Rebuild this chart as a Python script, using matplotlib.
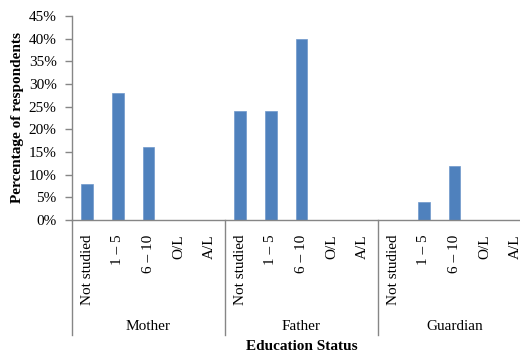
import matplotlib
matplotlib.use('Agg')
import matplotlib.pyplot as plt
import matplotlib.transforms as mtransforms

groups = ["Mother", "Father", "Guardian"]
levels = ["Not studied", "1 \u2013 5", "6 \u2013 10", "O/L", "A/L"]
mother = [8, 28, 16, 0, 0]
father = [24, 24, 40, 0, 0]
guardian = [0, 4, 12, 0, 0]
y_ticks = [0, 5, 10, 15, 20, 25, 30, 35, 40, 45]

plt.rcParams['font.family'] = ['Liberation Serif', 'DejaVu Serif']
plt.rcParams['font.size'] = 11

fig = plt.figure(figsize=(5.2, 3.54), dpi=100)
# axes runs a little past the right edge of the figure
ax = fig.add_axes([72 / 520, 134 / 354, 459 / 520, 204 / 354])

values = mother + father + guardian
xpos = list(range(len(values)))
ax.bar(xpos, values, width=0.38, color='#4F81BD', edgecolor='#6F97CB',
       linewidth=0.5, zorder=2)

ax.set_xlim(-0.5, len(values) - 0.5)
ax.set_ylim(0, 45)
ax.set_yticks(y_ticks)
ax.set_yticklabels(["%d%%" % v for v in y_ticks])

for side in ['top', 'right']:
    ax.spines[side].set_visible(False)
for side in ['left', 'bottom']:
    ax.spines[side].set_color('#868686')
    ax.spines[side].set_linewidth(1.0)

ax.tick_params(axis='y', direction='out', length=5, width=1.0,
               color='#868686', pad=6)
ax.set_xticks(xpos)
ax.set_xticklabels(levels * len(groups), rotation=90, va='top', ha='center')
ax.tick_params(axis='x', length=0, pad=10.5)

# group separators and group names under the category labels
trans = mtransforms.blended_transform_factory(ax.transData, ax.transAxes)
n = len(levels)
for i, g in enumerate(groups):
    left = i * n - 0.5
    ax.plot([left, left], [0, -115 / 204], transform=trans, color='#868686',
            linewidth=1.0, clip_on=False)
    ax.text(left + n / 2, -107 / 204, g, transform=trans, ha='center',
            va='center')
ax.plot([len(values) - 0.5] * 2, [0, -115 / 204], transform=trans,
        color='#868686', linewidth=1.0, clip_on=False)

ax.text(0.5, -127 / 204, "Education Status", transform=ax.transAxes,
        ha='center', va='center', fontweight='bold')
fig.text(18 / 520, 0.667, "Percentage of respondents", rotation=90,
         ha='center', va='center', fontweight='bold')

fig.savefig('out.png', dpi=100)
